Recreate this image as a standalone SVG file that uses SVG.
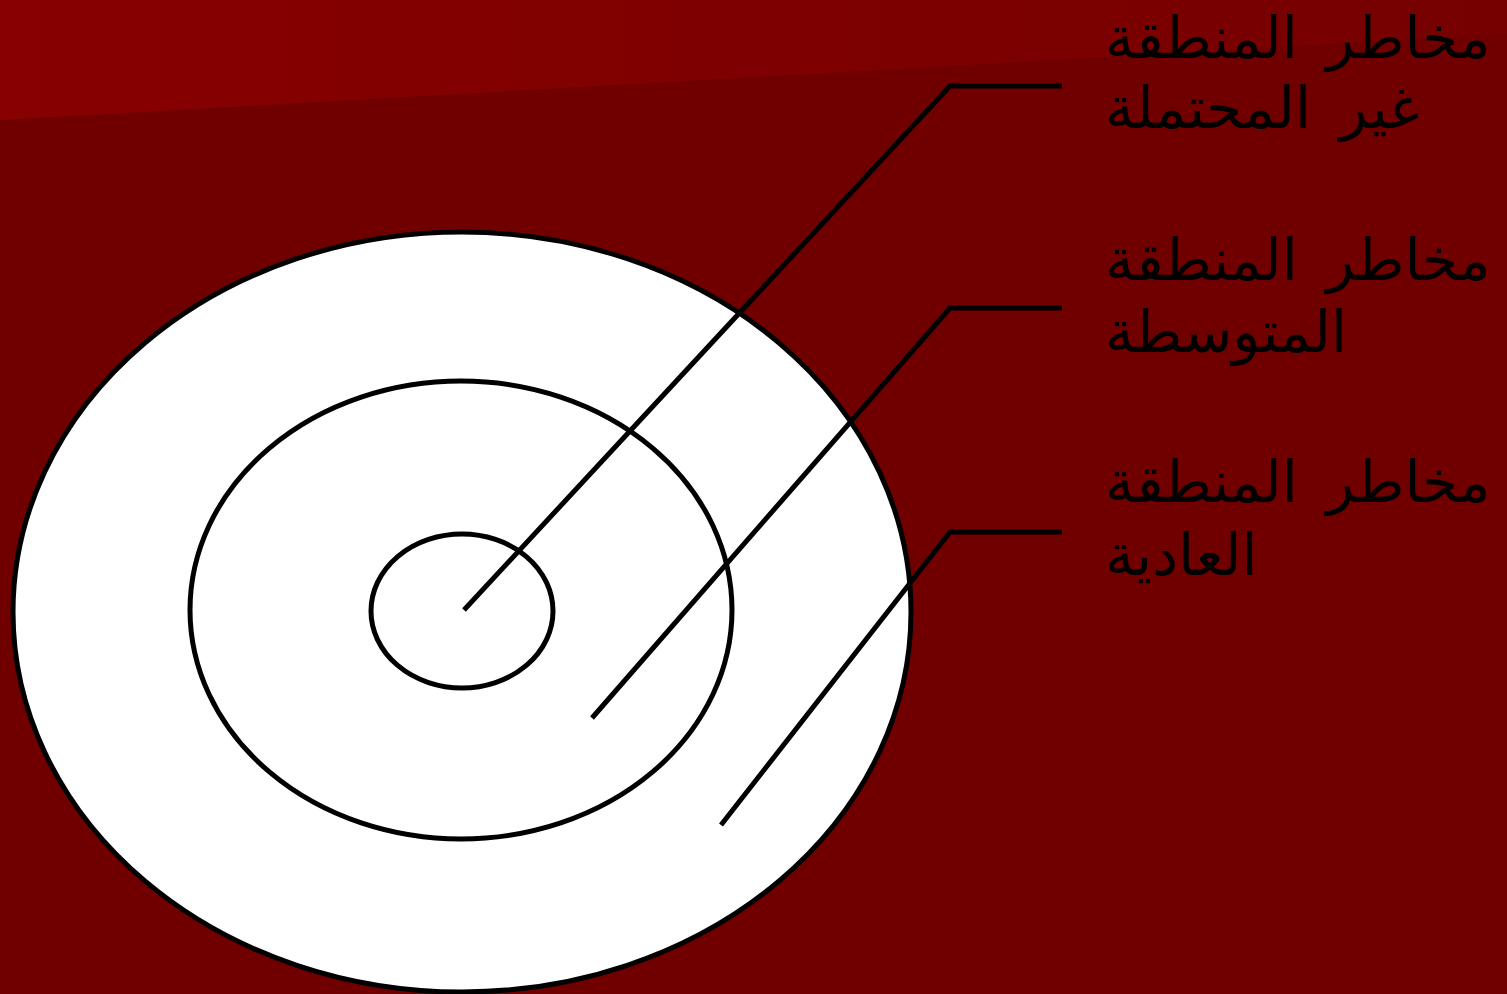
<svg xmlns="http://www.w3.org/2000/svg" width="1507" height="994" viewBox="0 0 1507 994">
<defs>
<linearGradient id="band" x1="0" y1="0" x2="1" y2="0">
<stop offset="0" stop-color="#880000"/>
<stop offset="1" stop-color="#760000"/>
</linearGradient>
<style>
.ring{fill:none;stroke:#000;stroke-width:5}
.lead{fill:none;stroke:#000;stroke-width:5}
.lbl{font-family:"DejaVu Sans","Noto Sans",sans-serif;font-size:58px;fill:#000;word-spacing:10px}
</style>
</defs>
<rect width="1507" height="994" fill="#700000"/>
<polygon points="0,0 1507,0 1507,34 0,120" fill="url(#band)"/>
<g id="target">
<ellipse cx="462" cy="612" rx="449" ry="380" fill="#fff" stroke="#000" stroke-width="5"/>
<ellipse class="ring" cx="461" cy="610" rx="271" ry="229"/>
<ellipse class="ring" cx="462" cy="611" rx="91" ry="77"/>
</g>
<g id="connectors">
<polyline class="lead" points="464,610 950,86 1062,86"/>
<polyline class="lead" points="592,718 950,308 1062,308"/>
<polyline class="lead" points="721,825 950,532 1062,532"/>
</g>
<g id="label-unlikely">
<text class="lbl" x="1105" y="58">مخاطر المنطقة</text>
<text class="lbl" x="1105" y="128">غير المحتملة</text>
</g>
<g id="label-medium">
<text class="lbl" x="1105" y="280">مخاطر المنطقة</text>
<text class="lbl" x="1105" y="352">المتوسطة</text>
</g>
<g id="label-normal">
<text class="lbl" x="1105" y="502">مخاطر المنطقة</text>
<text class="lbl" x="1105" y="575">العادية</text>
</g>
</svg>
